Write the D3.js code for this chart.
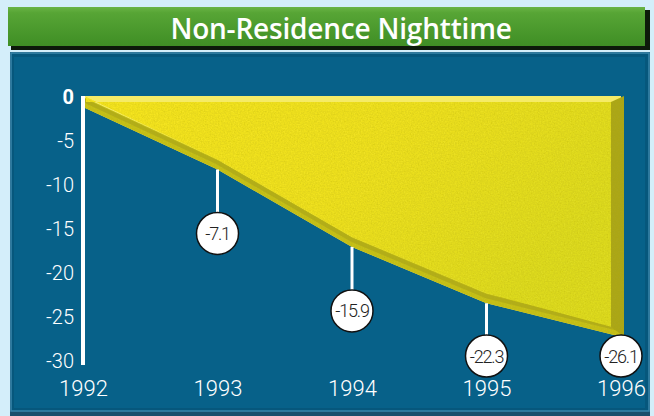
<!DOCTYPE html>
<html>
<head>
<meta charset="utf-8">
<script src="https://cdn.jsdelivr.net/npm/d3@7"></script>
<style>
  html, body { margin: 0; padding: 0; background: #d4eefa; }
  #wrapper { width: 654px; height: 416px; }
  text { font-family: Roboto, "Open Sans", sans-serif; }
</style>
</head>
<body>
<div id="wrapper"></div>
<script>
// data
const years = ["1992", "1993", "1994", "1995", "1996"]
const values = [0, -7.1, -15.9, -22.3, -26.1]
const yTicks = [0, -5, -10, -15, -20, -25, -30]
const title = "Non-Residence Nighttime"

function drawChart() {
    const dataset = years.map((year, i) => ({ year: year, value: values[i] }))
    const xAccessor = d => d.year
    const yAccessor = d => d.value

    // dimensions
    const dimensions = { width: 654, height: 416 }
    const depth = 10        // bevel thickness of the yellow slab
    const bevelRight = 10
    const radius = 21

    const wrapper = d3.select("#wrapper")
        .append("svg")
        .attr("width", dimensions.width)
        .attr("height", dimensions.height)

    const defs = wrapper.append("defs")

    const green = defs.append("linearGradient").attr("id", "green")
        .attr("x1", 0).attr("y1", 0).attr("x2", 0).attr("y2", 1)
    green.append("stop").attr("offset", "0%").attr("stop-color", "#6ab445")
    green.append("stop").attr("offset", "15%").attr("stop-color", "#57a535")
    green.append("stop").attr("offset", "100%").attr("stop-color", "#3f8e25")

    const yellow = defs.append("linearGradient").attr("id", "yellow")
        .attr("x1", 0).attr("y1", 0).attr("x2", 1).attr("y2", 0.4)
    yellow.append("stop").attr("offset", "0%").attr("stop-color", "#f6e520")
    yellow.append("stop").attr("offset", "55%").attr("stop-color", "#efe121")
    yellow.append("stop").attr("offset", "100%").attr("stop-color", "#dedb24")

    const tex = defs.append("filter").attr("id", "tex")
    tex.append("feTurbulence").attr("type", "fractalNoise")
        .attr("baseFrequency", 0.7).attr("numOctaves", 2).attr("seed", 3).attr("result", "n")
    tex.append("feColorMatrix").attr("in", "n").attr("type", "matrix")
        .attr("values", "0 0 0 0 0.45  0 0 0 0 0.4  0 0 0 0 0  0 0 0 0.6 -0.18").attr("result", "dark")
    tex.append("feComposite").attr("in", "dark").attr("in2", "SourceGraphic")
        .attr("operator", "in").attr("result", "d2")
    const merge = tex.append("feMerge")
    merge.append("feMergeNode").attr("in", "SourceGraphic")
    merge.append("feMergeNode").attr("in", "d2")

    // background frames
    wrapper.append("rect").attr("x", 11).attr("y", 10).attr("width", 639).attr("height", 40)
        .attr("fill", "#0d1a0a")
    wrapper.append("rect").attr("x", 8).attr("y", 7).attr("width", 637).attr("height", 39)
        .attr("fill", "url(#green)")

    wrapper.append("rect").attr("x", 10).attr("y", 52).attr("width", 640).attr("height", 364)
        .attr("fill", "#1b4f6c")
    wrapper.append("rect").attr("x", 11).attr("y", 53).attr("width", 638).attr("height", 358)
        .attr("fill", "#06577c").attr("stroke", "#3a86ab").attr("stroke-width", 1.5)
    wrapper.append("rect").attr("x", 14).attr("y", 57).attr("width", 631).attr("height", 351)
        .attr("fill", "#076189")

    wrapper.append("text")
        .attr("x", 341).attr("y", 28)
        .attr("text-anchor", "middle").attr("dominant-baseline", "central")
        .attr("fill", "white")
        .style("font-family", "'Open Sans', sans-serif")
        .style("font-size", "28px").style("font-weight", 600)
        .style("letter-spacing", "-0.2px")
        .text(title)

    // scales
    const xScale = d3.scalePoint()
        .domain(years)
        .range([83, 621])

    const yScale = d3.scaleLinear()
        .domain([-30, 0])
        .range([361, 97])

    const bounds = wrapper.append("g")
    const last = dataset.length - 1
    const xLast = xScale(dataset[last].year)
    const yTop = yScale(0)

    // slab outline (top highlight colour)
    const outerArea = d3.area()
        .x(d => xScale(xAccessor(d)))
        .y0(d => yScale(yAccessor(d)) + depth)
        .y1(yTop - 1)
    bounds.append("path").datum(dataset)
        .attr("d", outerArea)
        .attr("fill", "#f5eb66")

    // bottom bevel
    const bottomBevel = d3.area()
        .x(d => xScale(xAccessor(d)))
        .y0(d => yScale(yAccessor(d)) + depth)
        .y1(d => yScale(yAccessor(d)))
    bounds.append("path").datum(dataset)
        .attr("d", bottomBevel)
        .attr("fill", "#c6c11f")
        .attr("filter", "url(#tex)")
    bounds.append("path").datum(dataset)
        .attr("d", d3.line().x(d => xScale(xAccessor(d))).y(d => yScale(yAccessor(d)) + 3))
        .attr("fill", "none").attr("stroke", "#a7a21a").attr("stroke-width", 4).attr("opacity", 0.6)

    // right bevel
    const yLast = yScale(yAccessor(dataset[last]))
    bounds.append("path")
        .attr("d", d3.line()([
            [xLast - bevelRight, yTop + 5],
            [xLast + 3, yTop - 1],
            [xLast + 3, yLast + depth],
            [xLast - bevelRight, yLast]
        ]))
        .attr("fill", "#aaa61d")
        .attr("filter", "url(#tex)")

    // front face
    const frontArea = d3.area()
        .x((d, i) => xScale(xAccessor(d)) + (i === 0 ? 3 : 0) - (i === last ? bevelRight : 0))
        .y0(d => yScale(yAccessor(d)))
        .y1(yTop + 5)
    bounds.append("path").datum(dataset)
        .attr("d", frontArea)
        .attr("fill", "url(#yellow)")
        .attr("filter", "url(#tex)")

    // y axis
    bounds.append("rect")
        .attr("x", xScale(years[0]) - 2).attr("y", yTop - 1)
        .attr("width", 4).attr("height", yScale(-30) - yTop + 5)
        .attr("fill", "white")

    const yAxisGenerator = d3.axisLeft()
        .scale(yScale)
        .tickValues(yTicks)
        .tickSize(0)
        .tickPadding(9)
        .tickFormat(d => d)

    const yAxis = bounds.append("g")
        .attr("transform", `translate(${xScale(years[0])}, 0)`)
        .call(yAxisGenerator)
    yAxis.select(".domain").remove()
    yAxis.selectAll("text")
        .attr("fill", "white")
        .style("font-size", "20px")
        .style("font-family", "Roboto, sans-serif")
        .style("font-weight", d => d === 0 ? 700 : 300)

    // x axis
    const xAxisGenerator = d3.axisBottom()
        .scale(xScale)
        .tickSize(0)
        .tickPadding(0)

    const xAxis = bounds.append("g")
        .attr("transform", `translate(0, 380)`)
        .call(xAxisGenerator)
    xAxis.select(".domain").remove()
    xAxis.selectAll("text")
        .attr("fill", "white")
        .style("font-size", "22px")
        .style("font-family", "Roboto, sans-serif")
        .style("font-weight", 300)

    // value callouts
    const labelled = dataset.filter(d => yAccessor(d) !== 0)
    const cyOf = d => Math.min(yScale(yAccessor(d)) + depth + 64, 356)

    const callouts = bounds.selectAll(".callout")
        .data(labelled)
        .join("g")
        .attr("class", "callout")

    callouts.filter(d => cyOf(d) - radius > yScale(yAccessor(d)) + depth)
        .append("line")
        .attr("x1", d => xScale(xAccessor(d)))
        .attr("x2", d => xScale(xAccessor(d)))
        .attr("y1", d => yScale(yAccessor(d)) + depth)
        .attr("y2", d => cyOf(d) - radius)
        .attr("stroke", "white").attr("stroke-width", 3)

    callouts.append("circle")
        .attr("cx", d => xScale(xAccessor(d)))
        .attr("cy", cyOf)
        .attr("r", radius)
        .attr("fill", "white")
        .attr("stroke", "#111").attr("stroke-width", 1.5)

    callouts.append("text")
        .attr("x", d => xScale(xAccessor(d)))
        .attr("y", cyOf)
        .attr("text-anchor", "middle").attr("dominant-baseline", "central")
        .attr("fill", "#222")
        .style("font-size", "18px")
        .style("font-weight", 300)
        .style("letter-spacing", "-1.2px")
        .text(d => yAccessor(d))
}
drawChart()
</script>
</body>
</html>
